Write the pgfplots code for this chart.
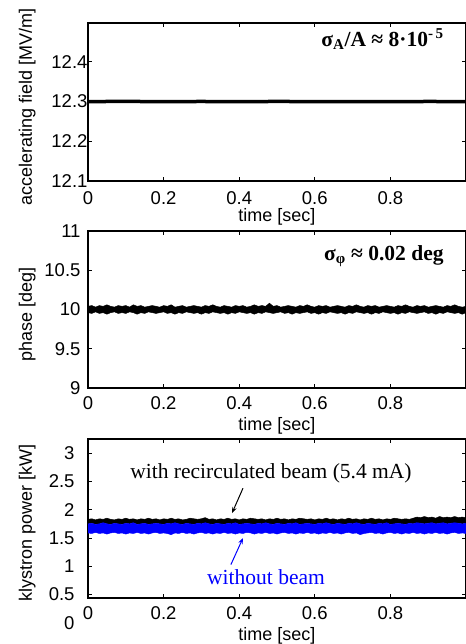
\documentclass[border=0pt]{standalone}
\usepackage{fontspec}
\setmainfont{Liberation Serif}
\newfontfamily\arial{Liberation Sans}
\usepackage{pgfplots}
\usepackage{pgfplotstable}
\pgfplotsset{compat=1.18}
\usepgfplotslibrary{fillbetween}
\usetikzlibrary{arrows.meta}
\definecolor{mblue}{RGB}{0,0,255}

% accelerating field
\pgfplotstableread{
x y
0.00 12.300
0.10 12.3005
0.20 12.2998
0.30 12.3003
0.40 12.2997
0.50 12.3004
0.60 12.2999
0.70 12.3002
0.80 12.2998
0.90 12.3003
1.00 12.3000
}\field

% phase: upper / lower edge of the noise band
\pgfplotstableread{
x pu pl
0.00 10.04 9.96
0.01 10.05 9.95
0.02 10.03 9.97
0.03 10.05 9.95
0.04 10.04 9.96
0.05 10.06 9.94
0.06 10.04 9.96
0.07 10.03 9.97
0.08 10.05 9.95
0.09 10.04 9.96
0.10 10.05 9.95
0.11 10.03 9.97
0.12 10.06 9.96
0.13 10.04 9.94
0.14 10.05 9.96
0.15 10.03 9.95
0.16 10.04 9.97
0.17 10.05 9.96
0.18 10.04 9.95
0.19 10.03 9.96
0.20 10.05 9.97
0.21 10.04 9.95
0.22 10.06 9.96
0.23 10.03 9.94
0.24 10.04 9.96
0.25 10.05 9.95
0.26 10.03 9.97
0.27 10.04 9.96
0.28 10.05 9.95
0.29 10.04 9.96
0.30 10.03 9.94
0.31 10.05 9.96
0.32 10.04 9.95
0.33 10.06 9.97
0.34 10.04 9.96
0.35 10.03 9.95
0.36 10.05 9.96
0.37 10.04 9.94
0.38 10.03 9.96
0.39 10.05 9.95
0.40 10.04 9.97
0.41 10.05 9.96
0.42 10.03 9.95
0.43 10.04 9.96
0.44 10.06 9.94
0.45 10.04 9.96
0.46 10.05 9.95
0.47 10.04 9.97
0.48 10.08 9.96
0.49 10.04 9.95
0.50 10.05 9.96
0.51 10.03 9.97
0.52 10.04 9.95
0.53 10.05 9.96
0.54 10.04 9.94
0.55 10.03 9.96
0.56 10.05 9.95
0.57 10.04 9.96
0.58 10.06 9.97
0.59 10.04 9.95
0.60 10.03 9.96
0.61 10.05 9.94
0.62 10.04 9.96
0.63 10.05 9.95
0.64 10.03 9.97
0.65 10.04 9.96
0.66 10.05 9.95
0.67 10.04 9.96
0.68 10.03 9.94
0.69 10.05 9.96
0.70 10.04 9.95
0.71 10.06 9.97
0.72 10.04 9.96
0.73 10.03 9.95
0.74 10.05 9.96
0.75 10.04 9.94
0.76 10.05 9.96
0.77 10.03 9.95
0.78 10.04 9.97
0.79 10.05 9.96
0.80 10.04 9.95
0.81 10.03 9.96
0.82 10.05 9.94
0.83 10.04 9.96
0.84 10.06 9.95
0.85 10.04 9.97
0.86 10.03 9.96
0.87 10.05 9.95
0.88 10.04 9.96
0.89 10.05 9.97
0.90 10.03 9.95
0.91 10.04 9.96
0.92 10.05 9.94
0.93 10.04 9.96
0.94 10.03 9.95
0.95 10.05 9.97
0.96 10.04 9.96
0.97 10.06 9.95
0.98 10.04 9.96
0.99 10.03 9.94
1.00 10.04 9.96
}\phase

% klystron power: ku = top of "with beam", bu/bl = top/bottom of "without beam"
\pgfplotstableread{
x ku bu bl
0.00 1.83 1.75 1.59
0.01 1.84 1.76 1.58
0.02 1.82 1.74 1.60
0.03 1.84 1.75 1.58
0.04 1.83 1.77 1.59
0.05 1.85 1.75 1.57
0.06 1.83 1.74 1.59
0.07 1.82 1.76 1.60
0.08 1.84 1.75 1.58
0.09 1.83 1.74 1.59
0.10 1.85 1.76 1.57
0.11 1.83 1.75 1.59
0.12 1.84 1.77 1.58
0.13 1.82 1.74 1.60
0.14 1.84 1.75 1.58
0.15 1.83 1.76 1.59
0.16 1.85 1.74 1.57
0.17 1.83 1.75 1.59
0.18 1.84 1.76 1.60
0.19 1.82 1.75 1.58
0.20 1.84 1.74 1.59
0.21 1.83 1.76 1.58
0.22 1.85 1.75 1.56
0.23 1.83 1.77 1.59
0.24 1.84 1.75 1.58
0.25 1.82 1.74 1.60
0.26 1.83 1.76 1.58
0.27 1.85 1.75 1.59
0.28 1.84 1.74 1.57
0.29 1.83 1.76 1.59
0.30 1.84 1.75 1.60
0.31 1.86 1.77 1.58
0.32 1.83 1.75 1.59
0.33 1.84 1.74 1.57
0.34 1.82 1.76 1.59
0.35 1.84 1.75 1.58
0.36 1.83 1.74 1.60
0.37 1.85 1.76 1.58
0.38 1.83 1.75 1.59
0.39 1.84 1.77 1.57
0.40 1.82 1.74 1.59
0.41 1.84 1.75 1.58
0.42 1.83 1.76 1.60
0.43 1.85 1.75 1.59
0.44 1.84 1.74 1.57
0.45 1.83 1.76 1.59
0.46 1.84 1.75 1.58
0.47 1.82 1.77 1.60
0.48 1.84 1.75 1.58
0.49 1.83 1.74 1.59
0.50 1.85 1.76 1.57
0.51 1.83 1.75 1.59
0.52 1.84 1.74 1.60
0.53 1.82 1.76 1.58
0.54 1.84 1.75 1.59
0.55 1.83 1.77 1.57
0.56 1.85 1.74 1.59
0.57 1.84 1.75 1.58
0.58 1.83 1.76 1.60
0.59 1.84 1.75 1.58
0.60 1.82 1.74 1.59
0.61 1.84 1.76 1.57
0.62 1.83 1.75 1.59
0.63 1.85 1.77 1.58
0.64 1.83 1.75 1.60
0.65 1.84 1.74 1.58
0.66 1.82 1.76 1.59
0.67 1.84 1.75 1.57
0.68 1.83 1.74 1.59
0.69 1.85 1.76 1.60
0.70 1.83 1.75 1.58
0.71 1.84 1.77 1.59
0.72 1.82 1.75 1.56
0.73 1.84 1.74 1.58
0.74 1.83 1.76 1.59
0.75 1.85 1.75 1.60
0.76 1.83 1.74 1.58
0.77 1.84 1.76 1.59
0.78 1.82 1.75 1.57
0.79 1.84 1.77 1.59
0.80 1.83 1.74 1.60
0.81 1.85 1.75 1.58
0.82 1.84 1.76 1.59
0.83 1.83 1.75 1.57
0.84 1.84 1.74 1.59
0.85 1.83 1.76 1.58
0.86 1.85 1.75 1.60
0.87 1.87 1.77 1.58
0.88 1.86 1.76 1.59
0.89 1.88 1.75 1.57
0.90 1.86 1.76 1.59
0.91 1.87 1.77 1.58
0.92 1.85 1.75 1.60
0.93 1.88 1.76 1.58
0.94 1.86 1.77 1.59
0.95 1.87 1.75 1.57
0.96 1.86 1.76 1.59
0.97 1.88 1.77 1.60
0.98 1.86 1.76 1.58
0.99 1.87 1.75 1.59
1.00 1.86 1.76 1.58
}\power

\pgfplotsset{panel/.style={
    scale only axis,
    width=378pt,
    xmin=0, xmax=1,
    xtick={0,0.2,0.4,0.6,0.8},
    tick align=inside,
    major tick length=4pt,
    tick style={black, line width=0.8pt},
    axis line style={line width=1.3pt},
    tick label style={font=\arial\fontsize{18.5}{20}\selectfont},
    /pgf/number format/assume math mode=true,
    label style={font=\arial\fontsize{18}{20}\selectfont},
    xlabel={time [sec]},
    xticklabel style={yshift=-5pt},
    xlabel style={at={(axis description cs:0.5,-0.238)}, anchor=center},
    ylabel style={at={(axis description cs:-0.161,0.47)}, anchor=center},
}}

\begin{document}
\begin{tikzpicture}

\begin{axis}[panel,
    at={(88pt,463pt)}, anchor=south west,
    height=158pt,
    ymin=12.1, ymax=12.498,
    ytick={12.1,12.2,12.3,12.4},
    yticklabel style={xshift=3pt},
    xticklabel style={yshift=-2pt},
    xlabel style={at={(axis description cs:0.5,-0.228)}},
    ylabel={accelerating field [MV/m]},
]
\addplot[black, line width=3.5pt] table[x=x, y=y] {\field};
\node[anchor=base east, font=\bfseries\fontsize{21.5}{22}\selectfont]
    at (axis cs:0.95,12.44) {σ\textsubscript{A}/A ≈ 8·10\textsuperscript{-\,5}};
\end{axis}

\begin{axis}[panel,
    at={(88pt,256pt)}, anchor=south west,
    height=157pt,
    ymin=9, ymax=11,
    ytick={9,9.5,10,10.5,11},
    yticklabel style={xshift=-4pt},
    ylabel={phase [deg]},
]
\addplot[black, line width=0.5pt, name path=pu] table[x=x, y=pu] {\phase};
\addplot[black, line width=0.5pt, name path=pl] table[x=x, y=pl] {\phase};
\addplot[black] fill between[of=pu and pl];
\node[anchor=base east, font=\bfseries\fontsize{21.5}{22}\selectfont]
    at (axis cs:0.95,10.62) {σ\textsubscript{φ} ≈ 0.02 deg};
\end{axis}

\begin{axis}[panel,
    at={(88pt,46pt)}, anchor=south west,
    height=159pt,
    ymin=0.44, ymax=3.25,
    ytick={0.5,1,1.5,2,2.5,3},
    yticklabel style={xshift=-10pt},
    ylabel={klystron power [kW]},
    clip=false,
]
\addplot[black, line width=0.5pt, name path=ku] table[x=x, y=ku] {\power};
\addplot[mblue, line width=0.5pt, name path=bu] table[x=x, y=bu] {\power};
\addplot[mblue, line width=0.5pt, name path=bl] table[x=x, y=bl] {\power};
\addplot[black] fill between[of=ku and bu];
\addplot[mblue] fill between[of=bu and bl];
\node[anchor=east, xshift=-10pt, font=\arial\fontsize{18.5}{20}\selectfont]
    at (axis cs:0,0) {0};
\node[font=\fontsize{21.5}{22}\selectfont] at (axis cs:0.484,2.645)
    {with recirculated beam (5.4 mA)};
\node[font=\fontsize{21.5}{22}\selectfont, text=mblue] at (axis cs:0.471,0.80)
    {without beam};
\draw[-{Stealth[length=6pt,width=4.5pt]}, line width=1pt, black]
    (axis cs:0.410,2.38) -- (axis cs:0.381,1.94);
\draw[-{Stealth[length=6pt,width=4.5pt]}, line width=1pt, mblue]
    (axis cs:0.378,1.03) -- (axis cs:0.410,1.50);
\end{axis}

\pgfresetboundingbox
\path[use as bounding box] (0,0) rectangle (465pt,644pt);
\end{tikzpicture}
\end{document}
